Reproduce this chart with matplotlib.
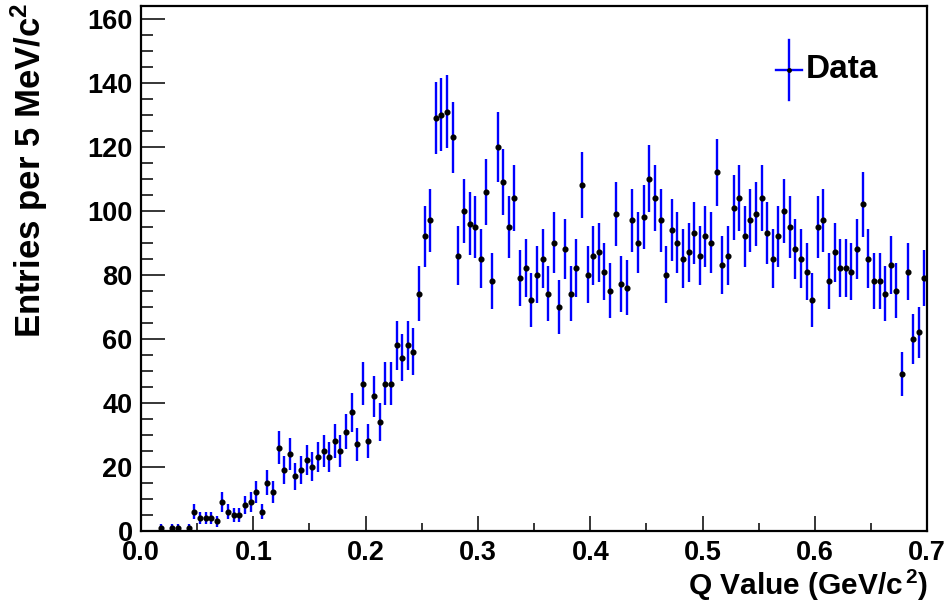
import numpy as np
import matplotlib
matplotlib.use("Agg")
import matplotlib.pyplot as plt
from matplotlib.ticker import MultipleLocator, FormatStrFormatter

plt.rcParams['font.family'] = ['Liberation Sans', 'DejaVu Sans']
plt.rcParams['font.weight'] = 'bold'
plt.rcParams['mathtext.fontset'] = 'custom'
plt.rcParams['mathtext.rm'] = 'Liberation Sans:bold'
plt.rcParams['mathtext.it'] = 'Liberation Sans:bold'
plt.rcParams['mathtext.bf'] = 'Liberation Sans:bold'
plt.rcParams['mathtext.default'] = 'rm'

# ---- data: 5 MeV bins from 0 to 0.7 GeV ----
bin_width = 0.005
x_min, x_max = 0.0, 0.7
counts = [
    0, 0, 0, 1, 0, 1, 1, 0, 1, 6,
    4, 4, 4, 3, 9, 6, 5, 5, 8, 9,
    12, 6, 15, 12, 26, 19, 24, 17, 19, 22,
    20, 23, 25, 23, 28, 25, 31, 37, 27, 46,
    28, 42, 34, 46, 46, 58, 54, 58, 56, 74,
    92, 97, 129, 130, 131, 123, 86, 100, 96, 95,
    85, 106, 78, 120, 109, 95, 104, 79, 82, 72,
    80, 85, 74, 90, 70, 88, 74, 82, 108, 80,
    86, 87, 81, 75, 99, 77, 76, 97, 90, 98,
    110, 104, 97, 80, 94, 90, 85, 87, 93, 86,
    92, 90, 112, 83, 86, 101, 104, 92, 97, 99,
    104, 93, 85, 92, 100, 95, 88, 85, 81, 72,
    95, 97, 78, 87, 82, 82, 81, 88, 102, 85,
    78, 78, 74, 83, 75, 49, 81, 60, 62, 79,
]
x_ticks = [0.0, 0.1, 0.2, 0.3, 0.4, 0.5, 0.6, 0.7]
y_ticks = [0, 20, 40, 60, 80, 100, 120, 140, 160]
y_top = 164
series_label = "Data"
x_title = r"Q Value (GeV/c$^{\,2}$)"
y_title = r"Entries per 5 MeV/c$^{2}$"

counts = np.array(counts, dtype=float)
centers = x_min + bin_width * (np.arange(len(counts)) + 0.5)
mask = counts > 0
xc = centers[mask]
yc = counts[mask]
err = np.sqrt(yc)

W, H = 952, 615
fig = plt.figure(figsize=(W / 100, H / 100), dpi=100)
ax_l, ax_r, ax_t, ax_b = 141, 927.3, 6, 530.7
ax = fig.add_axes([ax_l / W, 1 - ax_b / H, (ax_r - ax_l) / W, (ax_b - ax_t) / H])

ax.errorbar(xc, yc, yerr=err, fmt='none', ecolor='#0000ff', elinewidth=1.7,
            capsize=0, zorder=2)
ax.plot(xc, yc, 'o', color='black', markersize=3.4, zorder=3)

ax.set_xlim(x_min, x_max)
ax.set_ylim(0, y_top)
ax.set_xticks(x_ticks)
ax.set_yticks(y_ticks)
ax.xaxis.set_major_formatter(FormatStrFormatter('%.1f'))
ax.xaxis.set_minor_locator(MultipleLocator(0.05))
ax.yaxis.set_minor_locator(MultipleLocator(5))

for s in ax.spines.values():
    s.set_linewidth(1.6)

ax.tick_params(axis='x', which='major', direction='in', length=11, width=1.1,
               labelsize=19.5, pad=7, top=False)
ax.tick_params(axis='x', which='minor', direction='in', length=5.5, width=1.1, top=False)
ax.tick_params(axis='y', which='major', direction='in', length=17, width=1.1,
               labelsize=19.5, pad=6, right=False)
ax.tick_params(axis='y', which='minor', direction='in', length=8.5, width=1.1, right=False)
for lab in ax.get_xticklabels() + ax.get_yticklabels():
    lab.set_fontweight('bold')

fig.text(928 / W, 1 - 595 / H, x_title, ha='right', va='baseline',
         fontsize=21.5, fontweight='bold')
fig.text(29 / W, 1 - 3 / H, y_title, ha='center', va='top', rotation=90,
         fontsize=25, fontweight='bold')

# legend (drawn in axes fraction coordinates)
tr = ax.transAxes
def fx(px):
    return (px - ax_l) / (ax_r - ax_l)
def fy(py):
    return (ax_b - py) / (ax_b - ax_t)
lx, ly = fx(789), fy(70)
ax.plot([lx, lx], [fy(40), fy(100)], color='#0000ff', lw=1.7, transform=tr, clip_on=False)
ax.plot([fx(776), fx(802)], [ly, ly], color='#0000ff', lw=1.7, transform=tr, clip_on=False)
ax.plot([lx], [ly], 'o', color='black', markersize=2.5, transform=tr, clip_on=False)
ax.text(fx(806), ly, series_label, transform=tr, ha='left', va='center',
        fontsize=24, fontweight='bold')

fig.savefig("out.png", dpi=100)
